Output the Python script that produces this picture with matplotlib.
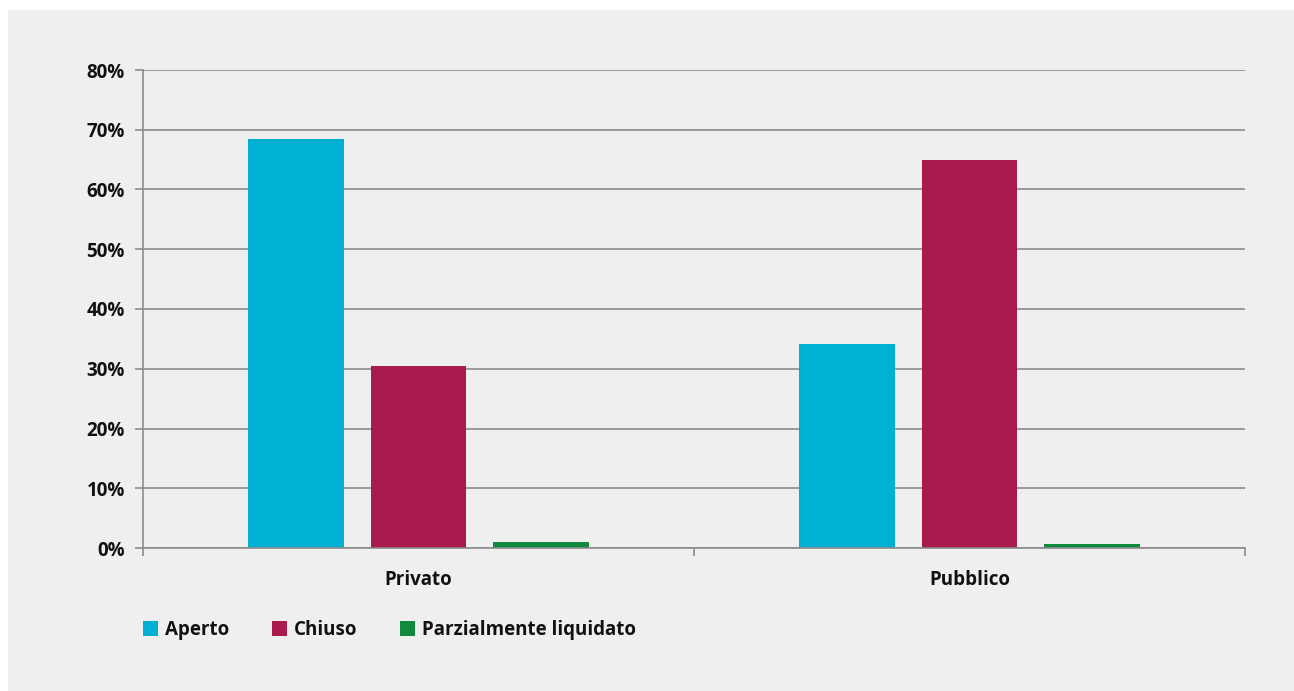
import matplotlib
matplotlib.use("Agg")
import matplotlib.pyplot as plt
from matplotlib.patches import Patch, Rectangle
import numpy as np

# Data (percent)
categories = ["Privato", "Pubblico"]
series_names = ["Aperto", "Chiuso", "Parzialmente liquidato"]
aperto = [68.4, 34.1]
chiuso = [30.5, 64.9]
parziale = [1.0, 0.7]
y_ticks = [0, 10, 20, 30, 40, 50, 60, 70, 80]
y_tick_labels = ["0%", "10%", "20%", "30%", "40%", "50%", "60%", "70%", "80%"]

colors = ["#00B0D4", "#A91A4E", "#128A3D"]
panel_bg = "#EFEFEF"
grid_col = "#8C8C8C"

plt.rcParams["font.family"] = ["Open Sans", "DejaVu Sans"]
plt.rcParams["font.weight"] = "bold"

W, H = 1294, 691
fig = plt.figure(figsize=(W / 100, H / 100), dpi=100)
fig.patch.set_facecolor("white")
# light grey panel behind the chart
fig.patches.append(Rectangle((8 / W, 0), 1 - 8 / W, 1 - 10 / H,
                             transform=fig.transFigure, facecolor=panel_bg,
                             edgecolor="none", zorder=-10))

ax = fig.add_axes([143 / W, 1 - 548 / H, (1245 - 143) / W, (548 - 70) / H])
ax.set_facecolor("none")

centers = np.arange(len(categories)) + 0.5
offsets = [-0.222, 0.0, 0.222]
width = 0.174
for vals, off, col, name in zip([aperto, chiuso, parziale], offsets, colors, series_names):
    ax.bar(centers + off, vals, width=width, color=col, label=name, zorder=3)

ax.set_xlim(0, len(categories))
ax.set_ylim(0, 80)

ax.set_yticks(y_ticks)
ax.set_yticklabels(y_tick_labels, fontsize=13.5, fontweight="bold", color="#111111")
ax.tick_params(axis="y", length=6, width=1.2, color=grid_col, pad=7)
ax.yaxis.grid(True, color=grid_col, linewidth=1.2, zorder=0)

ax.set_xticks(np.arange(len(categories) + 1))
ax.set_xticklabels([])
ax.tick_params(axis="x", which="major", length=6, width=1.2, color=grid_col)
ax.set_xticks(centers, minor=True)
ax.set_xticklabels(categories, minor=True, fontsize=13.5, fontweight="bold", color="#111111")
ax.tick_params(axis="x", which="minor", length=0, pad=15.5)

for side in ["top", "right"]:
    ax.spines[side].set_visible(False)
for side in ["left", "bottom"]:
    ax.spines[side].set_color(grid_col)
    ax.spines[side].set_linewidth(1.2)
ax.spines["bottom"].set_zorder(4)

handles = [Patch(facecolor=c, edgecolor="none") for c in colors]
leg = fig.legend(handles, series_names, loc="center left",
                 bbox_to_anchor=(143 / W, 1 - 630 / H), ncol=3, frameon=False,
                 borderpad=0, borderaxespad=0, handlelength=0.8, handleheight=0.8,
                 handletextpad=0.35, columnspacing=2.3,
                 prop={"size": 13.5, "weight": "bold"})
for t in leg.get_texts():
    t.set_color("#111111")

fig.savefig("out.png", dpi=100, facecolor=fig.get_facecolor())
